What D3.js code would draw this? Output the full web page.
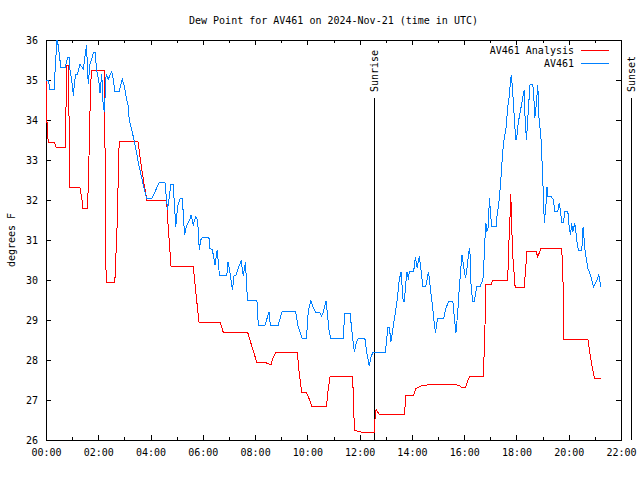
<!DOCTYPE html>
<html><head><meta charset="utf-8">
<script src="https://cdn.jsdelivr.net/npm/d3@7"></script>
<style>
body{margin:0;background:#fff}
svg{display:block}
text{font-family:"DejaVu Sans Mono","Liberation Mono",monospace;font-size:10px;fill:#000}
</style>
</head><body><svg id="c" width="640" height="480"></svg>
<script>
const titleText = "Dew Point for AV461 on 2024-Nov-21 (time in UTC)";
const yLabel = "degrees F";
const seriesNames = ["AV461 Analysis", "AV461"];
const seriesColors = ["#ff0000", "#0080ff"];

const analysisTimes = ["00:00","00:02","00:05","00:19","00:23","00:44","00:48","00:52","00:54","01:18","01:23","01:24","01:33","01:35","01:38","01:39","01:41","01:44","02:14","02:17","02:18","02:38","02:43","02:48","03:31","03:38","03:45","03:52","04:37","04:40","04:47","05:38","05:44","05:51","06:40","06:47","07:43","07:51","08:04","08:23","08:32","08:37","08:41","08:48","09:37","09:41","09:47","09:57","10:01","10:10","10:44","10:47","10:52","11:44","11:48","11:56","12:12","12:34","12:35","12:38","12:40","12:45","13:43","13:46","14:04","14:09","14:21","14:44","15:41","15:50","15:53","16:03","16:09","16:14","16:44","16:47","16:50","17:02","17:05","17:40","17:42","17:45","17:47","17:51","17:57","18:18","18:24","18:45","18:49","18:56","19:44","19:47","19:48","20:44","20:47","20:51","20:59","21:14"];
const analysisValues = [35.03,34.0,33.45,33.45,33.32,33.32,35.37,35.37,32.31,32.31,31.97,31.8,31.8,31.8,32.6,33.3,34.2,35.24,35.24,31.28,29.94,29.94,31.3,33.47,33.47,32.9,32.4,31.98,31.98,31.4,30.35,30.35,29.7,28.95,28.94,28.69,28.69,28.4,27.94,27.94,27.9,27.9,28.05,28.19,28.19,27.7,27.19,27.19,27.12,26.85,26.85,27.2,27.58,27.58,26.25,26.22,26.18,26.18,26.5,26.78,26.72,26.65,26.65,27.12,27.12,27.29,27.35,27.39,27.39,27.35,27.32,27.32,27.5,27.6,27.6,28.5,29.89,29.89,30.0,30.0,30.79,31.5,32.14,30.67,29.82,29.82,30.71,30.71,30.58,30.79,30.79,29.9,28.52,28.52,28.3,28.0,27.54,27.54];

const obsTimes = ["00:00","00:05","00:09","00:19","00:21","00:25","00:28","00:31","00:34","00:44","00:47","00:50","00:53","00:55","01:00","01:03","01:05","01:08","01:12","01:18","01:26","01:30","01:33","01:37","01:41","01:49","01:53","01:56","02:01","02:04","02:08","02:11","02:14","02:18","02:23","02:31","02:35","02:38","02:48","02:55","03:00","03:04","03:09","03:11","03:17","03:22","03:28","03:34","03:40","03:46","03:51","04:03","04:10","04:20","04:33","04:39","04:42","04:47","04:52","04:58","05:02","05:08","05:13","05:18","05:22","05:31","05:33","05:38","05:44","05:48","05:52","05:55","05:59","06:14","06:16","06:22","06:28","06:33","06:36","06:38","06:55","06:58","07:02","07:08","07:12","07:16","07:21","07:28","07:33","07:38","07:41","07:43","08:04","08:06","08:07","08:23","08:32","08:35","08:53","09:02","09:33","09:39","09:48","09:58","10:02","10:08","10:13","10:19","10:29","10:33","10:37","10:43","10:50","10:54","11:22","11:26","11:38","11:44","11:48","11:53","11:57","12:12","12:16","12:22","12:26","12:30","12:59","13:03","13:04","13:08","13:12","13:17","13:20","13:26","13:31","13:35","13:40","13:43","13:45","13:49","13:52","13:54","14:04","14:08","14:12","14:17","14:21","14:25","14:32","14:38","14:42","14:46","14:51","14:54","14:59","15:13","15:18","15:24","15:34","15:37","15:41","15:45","15:49","15:53","15:55","16:00","16:03","16:08","16:10","16:13","16:16","16:20","16:23","16:29","16:36","16:43","16:45","16:48","16:50","16:52","16:55","16:58","17:03","17:13","17:15","17:19","17:23","17:26","17:28","17:32","17:36","17:40","17:44","17:46","17:48","17:50","17:53","17:57","17:59","18:01","18:04","18:08","18:12","18:16","18:18","18:20","18:23","18:26","18:31","18:36","18:39","18:42","18:45","18:49","18:52","18:56","19:00","19:04","19:08","19:10","19:12","19:19","19:25","19:28","19:35","19:38","19:41","19:44","19:48","19:51","19:58","20:01","20:04","20:07","20:09","20:14","20:19","20:22","20:30","20:33","20:38","20:44","20:50","20:57","21:05","21:09","21:14"];
const obsValues = [35.0,35.0,34.77,34.77,35.27,36.0,35.87,35.6,35.31,35.31,35.45,35.56,35.56,35.27,34.9,34.6,34.9,35.14,35.14,35.39,35.27,35.64,35.87,34.9,35.39,35.68,35.68,35.27,35.0,34.68,35.14,34.43,34.2,35.14,35.02,35.22,34.97,34.72,34.72,35.02,34.85,34.58,34.33,34.0,33.75,33.5,33.17,32.83,32.54,32.25,32.04,32.04,32.2,32.44,32.44,31.75,32.0,32.4,32.4,31.33,31.83,32.04,32.04,31.13,31.33,31.54,31.63,31.38,31.58,31.5,30.75,31.0,31.07,31.07,30.79,30.75,30.375,30.75,30.4,30.125,30.125,30.46,30.2,29.75,30.125,30.125,30.29,30.48,30.1,30.46,29.75,29.5,29.5,29.29,28.875,28.875,29.21,28.875,28.875,29.21,29.21,28.83,28.54,28.54,29.21,29.48,29.33,29.18,29.18,29.1,29.21,29.48,28.71,28.54,28.54,29.17,29.17,28.54,28.21,28.46,28.54,28.54,28.21,27.85,28.07,28.18,28.18,28.625,28.82,28.82,28.46,28.83,29.04,29.5,30.0,30.21,29.46,29.46,29.83,30.21,30.0,30.21,30.21,30.58,30.3,30.6,30.25,29.85,29.85,30.21,29.83,29.46,28.96,28.67,29.04,29.04,29.29,29.46,29.46,29.1,28.67,29.17,29.83,30.375,30.625,30.25,30.04,30.42,30.67,30.79,29.79,29.46,29.46,29.83,29.83,30.0,30.375,31.08,31.42,31.21,31.3,32.04,31.33,31.33,31.58,31.875,32.33,32.79,33.17,33.54,33.79,34.33,34.625,34.96,35.125,34.9,34.42,33.71,33.5,33.6,33.92,34.17,34.4,34.67,34.75,33.96,33.5,34.04,34.875,34.9,34.8,34.04,34.33,34.875,34.0,33.625,32.67,31.42,31.92,32.33,32.08,32.1,32.0,31.71,31.71,31.92,31.75,31.43,31.43,31.71,31.71,31.33,31.125,31.42,31.2,31.42,30.96,30.75,30.75,31.33,30.67,30.29,30.125,29.83,30.0,30.125,29.83];

const yTicks = [26,27,28,29,30,31,32,33,34,35,36];
const xTickLabels = ["00:00","02:00","04:00","06:00","08:00","10:00","12:00","14:00","16:00","18:00","20:00","22:00"];
const sunEventNames = ["Sunrise","Sunset"];
const sunEventTimes = ["12:33","22:22"];

const toMin = s => { const [h,m] = s.split(":").map(Number); return h*60+m; };

const L = 46, R = 621, T = 40, B = 440;
const svg = d3.select("#c");
const x = d3.scaleLinear().domain([0, 22*60]).range([L, R]);
const y = d3.scaleLinear().domain([26, 36]).range([B, T]);

const majorVals = xTickLabels.map(toMin);
const minorVals = d3.range(0, 22*60+1, 60).filter(v => !majorVals.includes(v));

const g = svg.append("g").attr("shape-rendering","crispEdges");

function styleAxis(sel){
  sel.select(".domain").remove();
  sel.selectAll("line").attr("stroke","#000");
  sel.selectAll("text").attr("font-family",null).attr("font-size",null).attr("fill","#000");
}

// bottom axis
g.append("g").attr("transform",`translate(0,${B})`)
 .call(d3.axisBottom(x).tickValues(majorVals).tickSize(-5).tickPadding(9)
   .tickFormat((d,i)=>xTickLabels[i])).call(styleAxis);
g.append("g").attr("transform",`translate(0,${B})`)
 .call(d3.axisBottom(x).tickValues(minorVals).tickSize(-3).tickFormat("")).call(styleAxis);
// top mirror
g.append("g").attr("transform",`translate(0,${T})`)
 .call(d3.axisTop(x).tickValues(majorVals).tickSize(-5).tickFormat("")).call(styleAxis);
g.append("g").attr("transform",`translate(0,${T})`)
 .call(d3.axisTop(x).tickValues(minorVals).tickSize(-3).tickFormat("")).call(styleAxis);
// left axis
g.append("g").attr("transform",`translate(${L},0)`)
 .call(d3.axisLeft(y).tickValues(yTicks).tickSize(-5).tickPadding(8).tickFormat(d3.format("d"))).call(styleAxis);
// right mirror
g.append("g").attr("transform",`translate(${R},0)`)
 .call(d3.axisRight(y).tickValues(yTicks).tickSize(-5).tickFormat("")).call(styleAxis);

// frame
g.append("rect").attr("x",L).attr("y",T).attr("width",R-L).attr("height",B-T)
 .attr("fill","none").attr("stroke","#000");

// lines
const line = d3.line().x(d=>x(d[0])).y(d=>y(d[1]));
const analysis = analysisTimes.map((t,i)=>[toMin(t), analysisValues[i]]);
const obs = obsTimes.map((t,i)=>[toMin(t), obsValues[i]]);
svg.append("path").datum(analysis).attr("d",line).attr("fill","none")
  .attr("stroke",seriesColors[0]).attr("stroke-width",1).attr("shape-rendering","crispEdges");
svg.append("path").datum(obs).attr("d",line).attr("fill","none")
  .attr("stroke",seriesColors[1]).attr("stroke-width",1).attr("shape-rendering","crispEdges");

// sunrise / sunset
sunEventNames.forEach((name,i)=>{
  const sx = Math.round(x(toMin(sunEventTimes[i])));
  g.append("line").attr("x1",sx).attr("x2",sx).attr("y1",98).attr("y2",B)
    .attr("stroke","#000");
  svg.append("text").attr("transform",`translate(${sx+0.5},92) rotate(-90)`)
    .attr("dy","0.35em").attr("text-anchor","start").text(name);
});

// legend
seriesNames.forEach((name,i)=>{
  const ly = 50 + i*13;
  svg.append("text").attr("x",574).attr("y",ly).attr("dy","0.35em")
    .attr("text-anchor","end").text(name);
  g.append("line").attr("x1",581).attr("x2",609).attr("y1",ly+0.5).attr("y2",ly+0.5)
    .attr("stroke",seriesColors[i]);
});

// title and y label
svg.append("text").attr("x",(L+R)/2).attr("y",20).attr("dy","0.35em")
  .attr("text-anchor","middle").text(titleText);
svg.append("text").attr("transform",`translate(11,${(T+B)/2}) rotate(-90)`)
  .attr("dy","0.35em").attr("text-anchor","middle").text(yLabel);
</script>
</body></html>
